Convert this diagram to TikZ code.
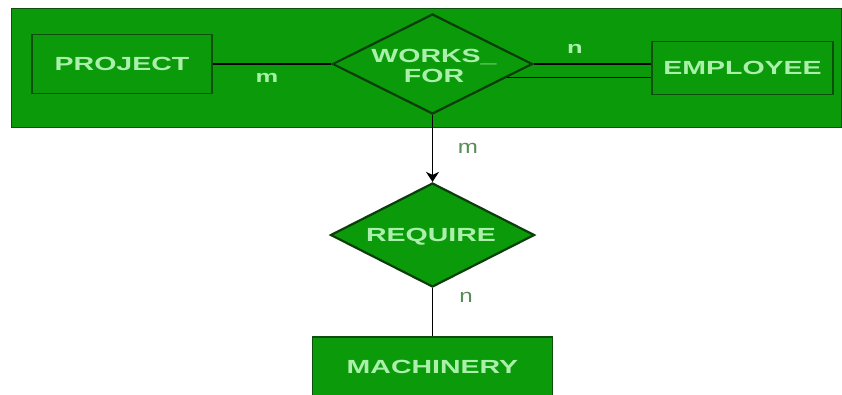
\documentclass[tikz,border=0pt]{standalone}
\usepackage{fontspec}
\setmainfont{Liberation Sans}
\newfontfamily\erfont[FakeStretch=1.5]{Liberation Sans}
\newfontfamily\lblfont[FakeStretch=1.27]{Liberation Sans}
\usetikzlibrary{shapes.geometric,arrows.meta,calc}
\definecolor{ergreen}{HTML}{0A9A0A}
\definecolor{ertext}{HTML}{AAEFAA}
\definecolor{erborder}{HTML}{0E4E0E}
\definecolor{erlabel}{HTML}{5A8C5A}
\tikzset{
  entity/.style={draw=erborder,line width=1.4pt,fill=ergreen,inner sep=0pt,
    text=ertext,font=\erfont\bfseries\fontsize{19}{22}\selectfont},
  rel/.style={diamond,draw=erborder!80!black,line width=2.2pt,fill=ergreen,inner sep=0pt},
  reltext/.style={text=ertext,font=\erfont\bfseries\fontsize{19}{20}\selectfont,align=center,inner sep=0pt},
  conn/.style={draw=black,line width=1.2pt},
  toplbl/.style={text=ertext,font=\erfont\bfseries\fontsize{17}{20}\selectfont,inner sep=0pt},
  lowlbl/.style={text=erlabel,font=\lblfont\fontsize{19}{20}\selectfont,inner sep=0pt},
}
\begin{document}
\begin{tikzpicture}[x=1pt,y=-1pt]
\useasboundingbox (0,0) rectangle (842,394);
\begin{scope}
\clip (0,0) rectangle (842,394);
% background band
\node[draw=erborder,line width=1.4pt,fill=ergreen,minimum width=830pt,minimum height=119pt,inner sep=0pt,anchor=north west] (band) at (11,8) {};
% entities
\node[entity,minimum width=180pt,minimum height=59pt] (proj) at (122,64) {PROJECT};
\node[entity,minimum width=181pt,minimum height=53pt] (emp) at (742.5,68) {EMPLOYEE};
\node[entity,minimum width=240pt,minimum height=62pt,text depth=0pt] (mach) at (432.5,368) {\raisebox{2pt}{MACHINERY}};
% relationships
\node[rel,minimum width=200pt,minimum height=100pt] (wf) at (432.5,64) {};
\node[reltext] (wft) at (434,66) {WORKS\_\\FOR};
\node[rel,minimum width=204pt,minimum height=104pt] (req) at (432.5,235) {};
\node[reltext] (reqt) at (431,237) {REQUIRE};
% connectors
\draw[conn] (proj.east) -- (wf.west);
\draw[conn] (wf.east) -- (wf.east -| emp.west);
\coordinate (wfl) at ($(wf.east)!0.26!(wf.south)$);
\draw[conn] (wfl) -- (wfl -| emp.west);
\draw[conn,-{Stealth[length=10pt,width=13pt,inset=3pt]}] (wf.south) -- (req.north);
\draw[conn] (req.south) -- (mach.north);
% cardinalities
\node[toplbl] (m1) at (267,78) {m};
\node[toplbl] (n1) at (575,49) {n};
\node[lowlbl] (m2) at (468,148) {m};
\node[lowlbl] (n2) at (466,297) {n};
\end{scope}
\end{tikzpicture}
\end{document}
